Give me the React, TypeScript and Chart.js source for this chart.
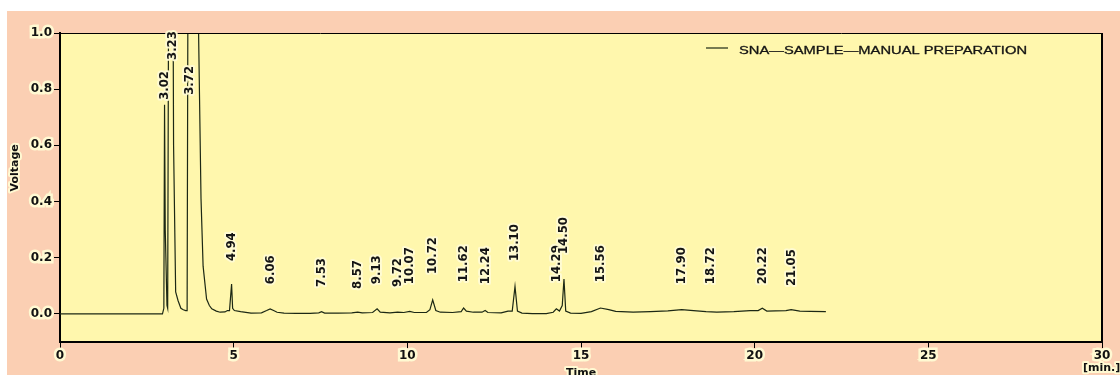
import React, { useEffect, useRef } from "react";
import { Chart, registerables } from "chart.js";

Chart.register(...registerables);

// ---- data ----
const traceTime = [
  0, 2.95, 2.99, 3.01, 3.03, 3.08, 3.1, 3.13, 3.25, 3.27, 3.33, 3.4, 3.48, 3.55, 3.62, 3.66,
  3.69, 3.97, 3.99, 4.06, 4.12, 4.22, 4.3, 4.37, 4.5, 4.61, 4.75, 4.82, 4.88, 4.94, 4.97,
  5.02, 5.2, 5.5, 5.8, 5.95, 6.05, 6.15, 6.25, 6.45, 6.8, 7.2, 7.45, 7.53, 7.62, 8.0, 8.4,
  8.57, 8.7, 9.0, 9.13, 9.22, 9.5, 9.72, 9.9, 10.07, 10.2, 10.55, 10.65, 10.73, 10.82, 10.95,
  11.3, 11.55, 11.62, 11.7, 11.9, 12.15, 12.24, 12.32, 12.7, 12.9, 13.02, 13.1, 13.17, 13.3,
  13.6, 14.0, 14.2, 14.29, 14.38, 14.46, 14.51, 14.56, 14.7, 15.0, 15.3, 15.56, 15.8, 16.0,
  16.5, 17.0, 17.5, 17.9, 18.24, 18.6, 18.91, 19.4, 19.87, 20.1, 20.22, 20.35, 20.6, 20.9,
  21.05, 21.3, 21.6, 22.05,
];
const traceVoltage = [
  0, 0, 0.02, 0.745, 0.3, 0.03, 0.02, 1.3, 1.3, 0.6, 0.078, 0.047, 0.02, 0.015, 0.012, 0.012,
  1.5, 1.5, 1.0, 0.41, 0.17, 0.053, 0.03, 0.018, 0.01, 0.006, 0.007, 0.012, 0.012, 0.106, 0.02,
  0.012, 0.008, 0.003, 0.004, 0.012, 0.018, 0.012, 0.006, 0.003, 0.002, 0.002, 0.004, 0.008, 0.003, 0.003, 0.004,
  0.006, 0.004, 0.005, 0.018, 0.006, 0.004, 0.006, 0.005, 0.009, 0.005, 0.005, 0.015, 0.05, 0.012, 0.006,
  0.005, 0.008, 0.021, 0.01, 0.006, 0.006, 0.012, 0.005, 0.004, 0.01, 0.01, 0.098, 0.01, 0.003,
  0.001, 0.001, 0.006, 0.018, 0.01, 0.03, 0.124, 0.01, 0.003, 0.002, 0.008, 0.021, 0.015, 0.009,
  0.006, 0.008, 0.011, 0.015, 0.012, 0.008, 0.006, 0.008, 0.012, 0.012, 0.02, 0.01, 0.011, 0.012,
  0.015, 0.01, 0.009, 0.008,
];
const peakLabels = [
  "3.02", "3.23", "3.72", "4.94", "6.06", "7.53", "8.57", "9.13", "9.72", "10.07", "10.72",
  "11.62", "12.24", "13.10", "14.29", "14.50", "15.56", "17.90", "18.72", "20.22", "21.05",
];
const peakLabelLevels = [
  0.762, 0.904, 0.78, 0.188, 0.106, 0.096, 0.089, 0.106, 0.096, 0.106, 0.142,
  0.113, 0.106, 0.188, 0.113, 0.213, 0.113, 0.106, 0.106, 0.106, 0.099,
];
const xTicks = [0, 5, 10, 15, 20, 25, 30];
const yTicks = [0, 0.2, 0.4, 0.6, 0.8, 1.0];
const seriesName = "SNA\u2014SAMPLE\u2014MANUAL PREPARATION";

const SALMON = "#fbcfb3";
const YELLOW = "#fff7ad";
const LINE = "#1c2814";
const HALO = "rgba(255,251,212,0.95)";

const decorPlugin = {
  id: "decor",
  beforeDraw(chart: any) {
    const { ctx, chartArea: a } = chart;
    ctx.save();
    ctx.fillStyle = YELLOW;
    ctx.fillRect(a.left, a.top, a.right - a.left, a.bottom - a.top);
    ctx.restore();
  },
  afterDatasetsDraw(chart: any) {
    const { ctx, chartArea: a, scales } = chart;
    const xs = scales.x;
    const ys = scales.y;
    // frame top / right
    ctx.save();
    ctx.strokeStyle = "#000";
    ctx.lineWidth = 1;
    ctx.beginPath();
    ctx.moveTo(a.left, a.top + 0.5);
    ctx.lineTo(a.right, a.top + 0.5);
    ctx.stroke();
    ctx.lineWidth = 2;
    ctx.beginPath();
    ctx.moveTo(a.right, a.top);
    ctx.lineTo(a.right, a.bottom);
    ctx.stroke();

    // peak labels
    ctx.font = 'bold 13px "Liberation Sans Narrow", "DejaVu Sans Condensed", sans-serif';
    ctx.textAlign = "left";
    ctx.textBaseline = "middle";
    ctx.lineJoin = "round";
    peakLabels.forEach((lab, i) => {
      const px = xs.getPixelForValue(parseFloat(lab));
      const py = ys.getPixelForValue(peakLabelLevels[i]);
      ctx.save();
      ctx.translate(px, py);
      ctx.rotate(-Math.PI / 2);
      ctx.strokeStyle = HALO;
      ctx.lineWidth = 4;
      ctx.strokeText(lab, 0, 0);
      ctx.fillStyle = "#141414";
      ctx.fillText(lab, 0, 0);
      ctx.restore();
    });

    // legend
    ctx.strokeStyle = LINE;
    ctx.lineWidth = 1.2;
    ctx.beginPath();
    ctx.moveTo(a.left + 646, a.top + 15);
    ctx.lineTo(a.left + 668, a.top + 15);
    ctx.stroke();
    ctx.font = '11px "Liberation Sans", Arial, sans-serif';
    const w = ctx.measureText(seriesName).width;
    ctx.save();
    ctx.translate(a.left + 679, a.top + 18);
    ctx.scale(288 / w, 1);
    ctx.fillStyle = "#141414";
    ctx.strokeStyle = "#141414";
    ctx.lineWidth = 0.3;
    ctx.strokeText(seriesName, 0, 0);
    ctx.fillText(seriesName, 0, 0);
    ctx.restore();

    // axis titles
    ctx.font = 'bold 11px "DejaVu Sans", sans-serif';
    ctx.fillStyle = "#111";
    ctx.strokeStyle = HALO;
    ctx.lineWidth = 4;
    ctx.save();
    ctx.translate(a.left - 45, ys.getPixelForValue(0.52));
    ctx.rotate(-Math.PI / 2);
    ctx.textAlign = "center";
    ctx.strokeText("Voltage", 0, 0);
    ctx.fillText("Voltage", 0, 0);
    ctx.restore();
    ctx.textAlign = "center";
    const tx = xs.getPixelForValue(15);
    ctx.strokeText("Time", tx, a.bottom + 31);
    ctx.fillText("Time", tx, a.bottom + 31);
    ctx.textAlign = "left";
    ctx.strokeText("[min.]", a.right - 19, a.bottom + 26);
    ctx.fillText("[min.]", a.right - 19, a.bottom + 26);
    ctx.restore();
  },
};

export default function App() {
  const ref = useRef<HTMLCanvasElement | null>(null);
  useEffect(() => {
    if (!ref.current) return;
    const pts = traceTime.map((t, i) => ({ x: t, y: traceVoltage[i] }));
    const tickFont = { family: '"DejaVu Sans", sans-serif', size: 12, weight: "bold" as const };
    const chart = new Chart(ref.current, {
      type: "line",
      data: {
        datasets: [
          {
            label: seriesName,
            data: pts,
            borderColor: LINE,
            borderWidth: 1.2,
            pointRadius: 0,
            tension: 0,
            fill: false,
          },
        ],
      },
      options: {
        animation: false,
        responsive: false,
        devicePixelRatio: 1,
        layout: { padding: { top: 22, right: 18, left: 0, bottom: 0 } },
        plugins: { legend: { display: false }, tooltip: { enabled: false }, title: { display: false } },
        scales: {
          x: {
            type: "linear",
            min: 0,
            max: 30,
            afterBuildTicks: (s: any) => {
              s.ticks = xTicks.map((v) => ({ value: v }));
            },
            afterFit: (s: any) => {
              s.height = 33;
            },
            ticks: {
              color: "#111",
              font: tickFont,
              padding: 1,
              maxRotation: 0,
              textStrokeColor: HALO,
              textStrokeWidth: 5,
            } as any,
            grid: { display: true, drawOnChartArea: false, drawTicks: true, tickLength: 6, color: "#000" },
            border: { display: true, color: "#000", width: 2 },
          },
          y: {
            type: "linear",
            min: -0.1,
            max: 1.0,
            afterBuildTicks: (s: any) => {
              s.ticks = yTicks.map((v) => ({ value: v }));
            },
            afterFit: (s: any) => {
              s.width = 53;
            },
            ticks: {
              color: "#111",
              font: tickFont,
              padding: 2,
              callback: (v: any) => Number(v).toFixed(1),
              textStrokeColor: HALO,
              textStrokeWidth: 5,
            } as any,
            grid: { display: true, drawOnChartArea: false, drawTicks: true, tickLength: 6, color: "#000" },
            border: { display: true, color: "#000", width: 2 },
          },
        },
      },
      plugins: [decorPlugin],
    });
    return () => chart.destroy();
  }, []);
  return (
    <div
      style={{
        position: "fixed",
        left: 7,
        top: 11,
        width: 1113,
        height: 364,
        background: SALMON,
      }}
    >
      <canvas ref={ref} width={1113} height={364} style={{ display: "block" }} />
    </div>
  );
}
